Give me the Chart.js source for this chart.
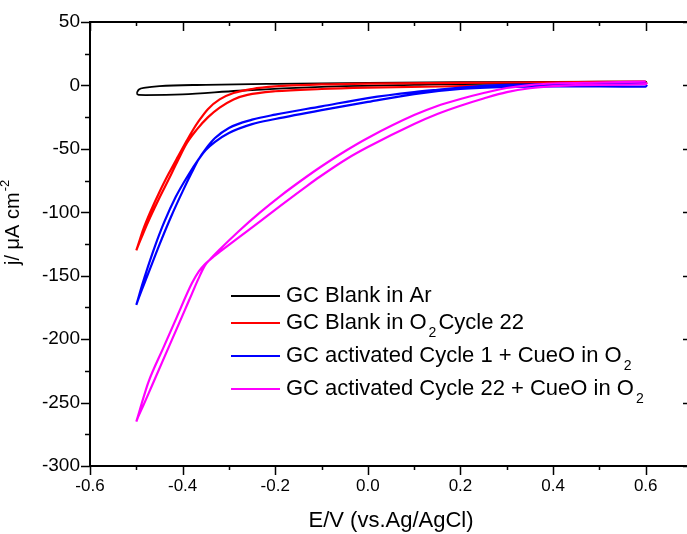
<!DOCTYPE html>
<html>
<head>
<meta charset="utf-8">
<script src="https://cdn.jsdelivr.net/npm/chart.js@4"></script>
<style>
  html, body { margin: 0; padding: 0; background: #fff; }
  #wrap { width: 687px; height: 534px; overflow: hidden; }
</style>
</head>
<body>
<div id="wrap"><canvas id="cv" width="692" height="534"></canvas></div>
<script>
// Each CV is one closed loop: E (V) and j (uA cm-2).
// cathodic branch from 0.6 V down to -0.5 V, then the return branch back to 0.6 V
const blankArE = [0.6, 0.4, 0.2, 0.0, -0.2, -0.35, -0.45, -0.48, -0.495, -0.5,
                  -0.495, -0.48, -0.4, -0.28, -0.1, 0.1, 0.3, 0.6, 0.603];
const blankArJ = [3.0, 2.8, 2.5, 2.0, 1.3, 0.5, -0.5, -1.8, -3.4, -6.2,
                  -7.5, -7.6, -7.1, -4.2, -1.1, 0.5, 1.5, 2.5, 2.8];

const blankO2E = [0.6, 0.4, 0.2, 0.0, -0.1, -0.2, -0.25, -0.29, -0.32, -0.345, -0.365, -0.38, -0.391, -0.41, -0.43, -0.45, -0.47, -0.485, -0.5,
                  -0.485, -0.47, -0.45, -0.43, -0.41, -0.391, -0.37, -0.345, -0.32, -0.29, -0.26, -0.2, -0.1, 0.0, 0.2, 0.4, 0.6, 0.603];
const blankO2J = [3.0, 2.5, 2.0, 1.5, 0.8, -0.8, -2.8, -6.0, -11, -18.5, -28, -36.5, -43.5, -56, -69.5, -84, -100, -113.5, -130,
                  -116.5, -104, -88.5, -74, -59, -45.5, -35, -25, -17.5, -11, -7.5, -4.6, -2.8, -1.8, -0.6, 0.4, 1.5, 2.3];

const cyc1E = [0.6, 0.5, 0.4, 0.3, 0.243, 0.15, 0.1, 0.0, -0.1, -0.2, -0.25, -0.3, -0.33, -0.35, -0.365, -0.38, -0.40, -0.425, -0.45, -0.475, -0.5,
               -0.488, -0.475, -0.46, -0.44, -0.415, -0.39, -0.365, -0.35, -0.33, -0.3, -0.25, -0.2, -0.1, 0.0, 0.1, 0.2, 0.3, 0.4, 0.5, 0.6, 0.603];
const cyc1J = [2.0, 1.6, 1.0, 0.4, -0.5, -3.5, -5.3, -10, -16.5, -23, -27, -33.5, -41.5, -50, -58, -68.5, -83.5, -103.5, -125.5, -149, -173,
               -158, -143, -127, -108, -88, -72, -58, -51, -44.5, -37.5, -30.5, -26.5, -19.5, -13, -6.8, -2.8, -1.2, -0.8, -0.8, -1.0, 0.5];

const cyc22E = [0.6, 0.5, 0.4, 0.35, 0.3, 0.25, 0.2, 0.15, 0.1, 0.0, -0.045, -0.103, -0.131, -0.189, -0.232, -0.28, -0.32, -0.34, -0.352, -0.366, -0.38, -0.395, -0.43, -0.463, -0.485, -0.5,
                -0.487, -0.474, -0.44, -0.413, -0.38, -0.365, -0.352, -0.335, -0.32, -0.28, -0.232, -0.189, -0.131, -0.103, -0.045, 0.0, 0.1, 0.15, 0.2, 0.25, 0.3, 0.35, 0.4, 0.5, 0.6, 0.603];
const cyc22J = [3.0, 2.3, 1.5, 0.3, -2.0, -6.0, -10.7, -16.2, -23.4, -41.4, -50.9, -64.5, -71.6, -87.2, -99.9, -115.3, -129.3, -136.8, -142, -152.5, -164.3, -176.9, -206.3, -234, -252.4, -265,
                -249, -234, -205.5, -183, -156, -146.5, -141, -135.5, -131.3, -120.2, -106.9, -94.9, -79.1, -71.8, -57.8, -48.6, -30.4, -22.5, -16, -10.3, -5.3, -2.2, -0.6, 0.5, 1.0, 2.0];

const seriesLabels = ['GC Blank in Ar', 'GC Blank in O_2 Cycle 22', 'GC activated Cycle 1 + CueO in O_2', 'GC activated Cycle 22 + CueO in O_2'];
const seriesColors = ['#000000', '#ff0000', '#0000ff', '#ff00ff'];

const FONT = '"Liberation Sans", Arial, sans-serif';

function pts(es, js) {
    return es.map((e, i) => ({ x: e, y: js[i] }));
}

function isMajorX(v) { return Math.abs(Math.round(v * 10)) % 2 === 0; }
function isMajorY(v) { return Math.round(v) % 50 === 0; }

// draws the boxed frame with Origin-style ticks, the y title and the legend
const framePlugin = {
    id: 'frame',
    afterDraw(chart) {
        const { ctx, chartArea: a } = chart;
        const xs = chart.scales.x, ys = chart.scales.y;
        ctx.save();
        ctx.strokeStyle = '#000';
        ctx.lineWidth = 2;
        ctx.beginPath();
        ctx.rect(a.left, a.top, a.right - a.left, a.bottom - a.top);
        ctx.stroke();

        ctx.lineWidth = 1.5;
        ctx.beginPath();
        xs.ticks.forEach(t => {
            const px = Math.round(xs.getPixelForValue(t.value)) + 0.5;
            const len = isMajorX(t.value) ? 9 : 4;
            ctx.moveTo(px, a.bottom); ctx.lineTo(px, a.bottom + len);
            ctx.moveTo(px, a.top); ctx.lineTo(px, a.top + len);
        });
        ys.ticks.forEach(t => {
            const py = Math.round(ys.getPixelForValue(t.value)) + 0.5;
            const len = isMajorY(t.value) ? 9 : 5;
            ctx.moveTo(a.left, py); ctx.lineTo(a.left - len, py);
            ctx.moveTo(a.right, py); ctx.lineTo(a.right - len, py);
        });
        ctx.stroke();

        // y title: j/ μA cm^-2
        ctx.fillStyle = '#000';
        ctx.translate(19, 265);
        ctx.rotate(-Math.PI / 2);
        ctx.textBaseline = 'alphabetic';
        ctx.textAlign = 'left';
        ctx.font = '20px ' + FONT;
        const main = 'j/ \u03bcA cm';
        ctx.fillText(main, 0, 0);
        const w = ctx.measureText(main).width;
        ctx.font = '13px ' + FONT;
        ctx.fillText('-2', w + 1, -10);
        ctx.restore();

        // legend inside the plot
        const rows = [296, 323, 356, 389];
        ctx.save();
        chart.data.datasets.forEach((ds, i) => {
            const y = rows[i];
            ctx.strokeStyle = ds.borderColor;
            ctx.lineWidth = 2;
            ctx.beginPath();
            ctx.moveTo(231, y); ctx.lineTo(280, y);
            ctx.stroke();
            ctx.fillStyle = '#000';
            ctx.textBaseline = 'middle';
            ctx.textAlign = 'left';
            let x = 286;
            const parts = seriesLabels[i].split('_');
            parts.forEach((p, k) => {
                if (k === 0) {
                    ctx.font = '22px ' + FONT;
                    ctx.fillText(p, x, y);
                    x += ctx.measureText(p).width;
                } else {
                    ctx.font = '14px ' + FONT;
                    ctx.fillText(p[0], x + 2, y + 10);
                    x += ctx.measureText(p[0]).width + 4;
                    ctx.font = '22px ' + FONT;
                    const rest = p.slice(1).replace(/^ /, '');
                    ctx.fillText(rest, x, y);
                    x += ctx.measureText(rest).width;
                }
            });
        });
        ctx.restore();
    }
};

const series = [pts(blankArE, blankArJ), pts(blankO2E, blankO2J), pts(cyc1E, cyc1J), pts(cyc22E, cyc22J)];

new Chart(document.getElementById('cv'), {
    type: 'scatter',
    data: {
        datasets: series.map((d, i) => ({
            label: seriesLabels[i],
            data: d,
            showLine: true,
            borderColor: seriesColors[i],
            backgroundColor: seriesColors[i],
            borderWidth: i === 0 ? 1.8 : 2.2,
            pointRadius: 0,
            tension: 0.4,
            cubicInterpolationMode: 'monotone',
            order: 3 - i
        }))
    },
    options: {
        responsive: false,
        animation: false,
        devicePixelRatio: 1,
        layout: { padding: { top: 22, left: 0, right: 0, bottom: 0 } },
        plugins: { legend: { display: false }, tooltip: { enabled: false } },
        scales: {
            x: {
                type: 'linear',
                min: -0.6, max: 0.7,
                grid: { display: false, drawTicks: false },
                border: { display: false },
                ticks: {
                    stepSize: 0.1,
                    padding: 10,
                    color: '#000',
                    font: { family: FONT, size: 17 },
                    maxRotation: 0,
                    autoSkip: false,
                    callback: v => (isMajorX(v) && v < 0.65) ? v.toFixed(1) : ''
                },
                title: {
                    display: true,
                    text: 'E/V (vs.Ag/AgCl)',
                    color: '#000',
                    font: { family: FONT, size: 22 },
                    padding: 0
                },
                afterFit: s => { s.height = 68; s.paddingLeft = 0; s.paddingRight = 0; }
            },
            y: {
                min: -300, max: 50,
                grid: { display: false, drawTicks: false },
                border: { display: false },
                ticks: {
                    stepSize: 25,
                    padding: 10,
                    color: '#000',
                    font: { family: FONT, size: 19 },
                    autoSkip: false,
                    callback: v => isMajorY(v) ? String(v) : ''
                },
                afterFit: s => { s.width = 90; }
            }
        }
    },
    plugins: [framePlugin]
});
</script>
</body>
</html>
